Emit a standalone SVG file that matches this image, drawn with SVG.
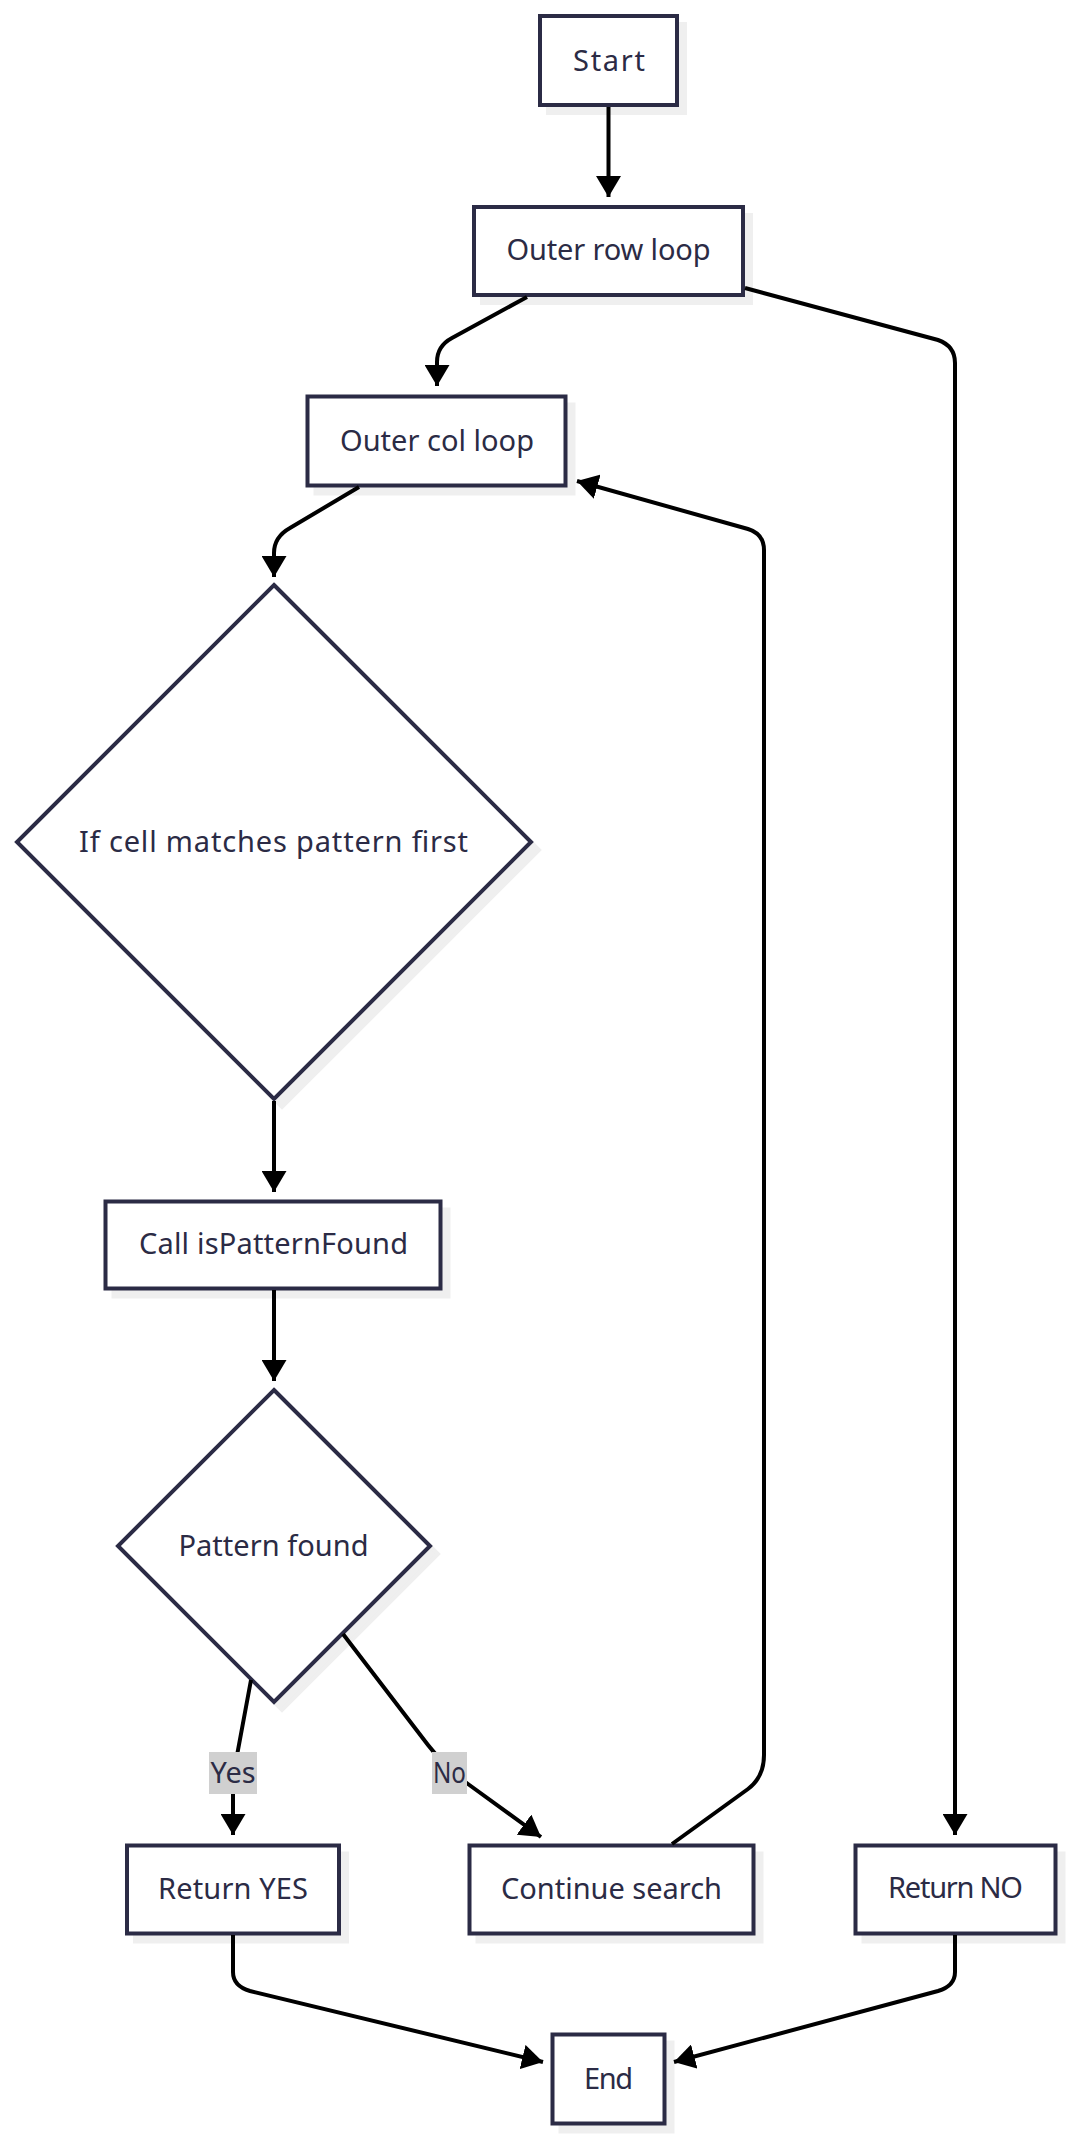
<svg xmlns="http://www.w3.org/2000/svg" width="1074" height="2140" viewBox="0 0 1074 2140">
<defs>
<style>
.sh{fill:#efefef;stroke:#efefef;stroke-width:4}
.nd{fill:#ffffff;stroke:#2b2b45;stroke-width:4}
.tx{font-family:"Noto Sans","DejaVu Sans",sans-serif;font-size:29px;fill:#2b2b45;text-anchor:middle}
.ed{fill:none;stroke:#000000;stroke-width:4}
.lb{fill:#d0d0d0}
</style>
<marker id="arr" viewBox="0 0 21 25" refX="21" refY="12.5" markerUnits="userSpaceOnUse" markerWidth="21" markerHeight="25" orient="auto">
<path d="M0,0 L21,12.5 L0,25 z" fill="#000000"/>
</marker>
</defs>
<rect width="1074" height="2140" fill="#ffffff"/>

<g id="start">
<rect class="sh" x="548" y="24" width="137" height="89"/>
<rect class="nd" x="540" y="16" width="137" height="89"/>
<text class="tx" x="609" y="71" textLength="72" lengthAdjust="spacing">Start</text>
</g>

<g id="outer-row-loop">
<rect class="sh" x="482" y="215" width="269" height="88"/>
<rect class="nd" x="474" y="207" width="269" height="88"/>
<text class="tx" x="608.5" y="260" textLength="204" lengthAdjust="spacing">Outer row loop</text>
</g>

<g id="outer-col-loop">
<rect class="sh" x="315.5" y="404.5" width="258" height="89"/>
<rect class="nd" x="307.5" y="396.5" width="258" height="89"/>
<text class="tx" x="437" y="451" textLength="194" lengthAdjust="spacing">Outer col loop</text>
</g>

<g id="cell-match">
<polygon class="sh" points="282,593 539,850 282,1107 25,850"/>
<polygon class="nd" points="274,585 531,842 274,1099 17,842"/>
<text class="tx" x="273.5" y="852" textLength="389" lengthAdjust="spacing">If cell matches pattern first</text>
</g>

<g id="call-found">
<rect class="sh" x="113.5" y="1209.5" width="335" height="87"/>
<rect class="nd" x="105.5" y="1201.5" width="335" height="87"/>
<text class="tx" x="273.5" y="1254" textLength="269" lengthAdjust="spacing">Call isPatternFound</text>
</g>

<g id="pattern-found">
<polygon class="sh" points="282,1398 438,1554 282,1710 126,1554"/>
<polygon class="nd" points="274,1390 430,1546 274,1702 118,1546"/>
<text class="tx" x="273.5" y="1556" textLength="190" lengthAdjust="spacing">Pattern found</text>
</g>

<g id="return-yes">
<rect class="sh" x="135" y="1853.5" width="212" height="88"/>
<rect class="nd" x="127" y="1845.5" width="212" height="88"/>
<text class="tx" x="233" y="1899" textLength="150" lengthAdjust="spacing">Return YES</text>
</g>

<g id="continue-search">
<rect class="sh" x="477.5" y="1853.5" width="284" height="88"/>
<rect class="nd" x="469.5" y="1845.5" width="284" height="88"/>
<text class="tx" x="611.5" y="1899" textLength="221" lengthAdjust="spacing">Continue search</text>
</g>

<g id="return-no">
<rect class="sh" x="863.5" y="1853.5" width="200" height="88"/>
<rect class="nd" x="855.5" y="1845.5" width="200" height="88"/>
<text class="tx" x="955.5" y="1898" textLength="135" lengthAdjust="spacing">Return NO</text>
</g>

<g id="end">
<rect class="sh" x="560.5" y="2042.5" width="112" height="89"/>
<rect class="nd" x="552.5" y="2034.5" width="112" height="89"/>
<text class="tx" x="608.5" y="2089" textLength="49" lengthAdjust="spacing">End</text>
</g>

<g id="connectors">
<path class="ed" marker-end="url(#arr)" d="M608.5,107 L608.5,197"/>
<path class="ed" marker-end="url(#arr)" d="M527,297 L452,338 Q437,346 437,362 L437,386"/>
<path class="ed" marker-end="url(#arr)" d="M745,288 L938,340 Q955,346 955,363 L955,1835"/>
<path class="ed" marker-end="url(#arr)" d="M359,487 L290,528 Q274,537 274,553 L274,577"/>
<path class="ed" marker-end="url(#arr)" d="M274,1101 L274,1192"/>
<path class="ed" marker-end="url(#arr)" d="M274,1290 L274,1381"/>
<path class="ed" marker-end="url(#arr)" d="M251,1680 L238,1750 Q233,1775 233,1790 L233,1835"/>
<path class="ed" marker-end="url(#arr)" d="M343,1634 L428,1745 Q446,1768 468,1784 L541,1837"/>
<path class="ed" marker-end="url(#arr)" d="M672,1844 L748,1789 Q764,1777 764,1755 L764,550 Q764,534 748,529 L577,481"/>
<path class="ed" marker-end="url(#arr)" d="M233,1935 L233,1972 Q233,1986 250,1991 L543,2062"/>
<path class="ed" marker-end="url(#arr)" d="M955,1935 L955,1972 Q955,1986 938,1991 L674,2062"/>
<g id="edge-labels">
<rect class="lb" x="209" y="1752" width="48" height="42"/>
<text class="tx" x="233" y="1783" textLength="45" lengthAdjust="spacingAndGlyphs">Yes</text>
<rect class="lb" x="432" y="1752" width="35" height="42"/>
<text class="tx" x="449.5" y="1783" textLength="33" lengthAdjust="spacingAndGlyphs">No</text>
</g>
</g>
</svg>
